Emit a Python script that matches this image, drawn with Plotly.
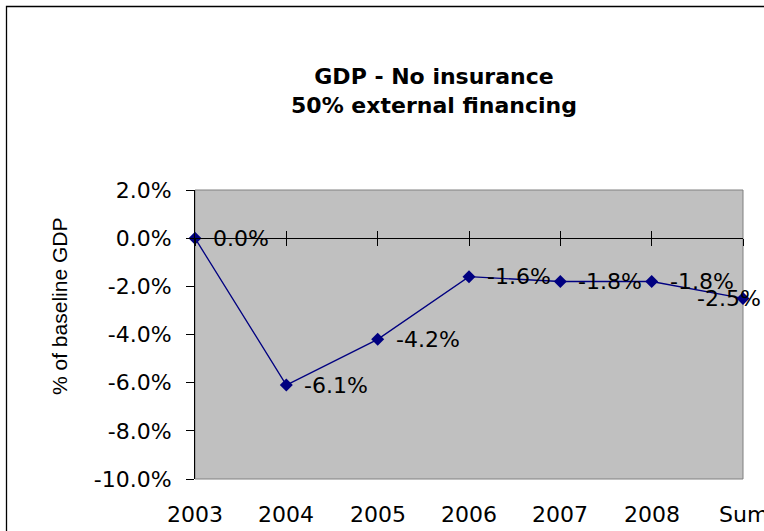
import plotly.graph_objects as go

# Chart data
years = ["2003", "2004", "2005", "2006", "2007", "2008", "Sum"]
gdp_pct = [0.0, -6.1, -4.2, -1.6, -1.8, -1.8, -2.5]
y_ticks = [2.0, 0.0, -2.0, -4.0, -6.0, -8.0, -10.0]

title_text = "<b>GDP - No insurance<br>50% external financing</b>"
y_title = "% of baseline GDP"

# Canvas and plot-area geometry (pixels)
W, H = 764, 531
L, R, T, B = 195, 21, 190, 52
plot_w = W - L - R
plot_h = H - T - B

x_idx = list(range(len(years)))
x_range = [0, len(years) - 1]
y_min, y_max = min(y_ticks), max(y_ticks)
zero_pos = (0 - y_min) / (y_max - y_min)

NAVY = "#000080"
TEXT_FONT = "DejaVu Sans"
TITLE_FONT = "Liberation Sans"

fig = go.Figure()
fig.add_trace(go.Scatter(
    x=x_idx, y=gdp_pct, mode="lines+markers",
    line=dict(color=NAVY, width=1.3),
    marker=dict(symbol="diamond", size=10, color=NAVY),
    cliponaxis=False, showlegend=False, hoverinfo="skip",
))

# Invisible companions so the zero-line axes (x2, x3) get drawn
for ax in ("x2", "x3"):
    fig.add_trace(go.Scatter(
        x=x_idx, y=gdp_pct, xaxis=ax, yaxis="y", mode="markers",
        marker=dict(opacity=0), showlegend=False, hoverinfo="skip",
    ))

# Value labels next to each point; the last one is pulled back inside the chart
for i, v in zip(x_idx, gdp_pct):
    last = i == len(years) - 1
    fig.add_annotation(
        x=i, y=v, xref="x", yref="y", text=f"{v:.1f}%", showarrow=False,
        xanchor="center" if last else "left", xshift=-14 if last else 16,
        yanchor="middle",
        font=dict(family=TEXT_FONT, size=22, color="black"),
    )

# Category labels below the plot area (the last one runs off the right edge)
for i, yr in zip(x_idx, years):
    fig.add_annotation(
        x=i, y=0, xref="x", yref="paper", text=yr, showarrow=False,
        xanchor="center", yanchor="middle", yshift=-35,
        font=dict(family=TEXT_FONT, size=22, color="black"),
    )

# Axis title
fig.add_annotation(
    x=(59 - L) / plot_w, y=(H - B - 307) / plot_h, xref="paper", yref="paper",
    text=y_title, textangle=-90, showarrow=False,
    xanchor="center", yanchor="middle",
    font=dict(family=TITLE_FONT, size=21, color="black"),
)

# Plot-area frame and outer chart border
fig.add_shape(type="rect", xref="paper", yref="paper", x0=0, y0=0, x1=1, y1=1,
              line=dict(color="#808080", width=1), fillcolor="rgba(0,0,0,0)", layer="below")
fig.add_shape(type="rect", xref="paper", yref="paper",
              x0=(6.5 - L) / plot_w, y0=-0.3, x1=1.2, y1=(H - B - 6.5) / plot_h,
              line=dict(color="black", width=1.3), fillcolor="rgba(0,0,0,0)")

zero_axis = dict(
    overlaying="x", anchor="free", position=zero_pos, range=x_range,
    tickmode="array", tickvals=x_idx, showticklabels=False,
    showgrid=False, zeroline=False, showline=True, linecolor="black", linewidth=1,
    ticklen=7, tickcolor="black", tickwidth=1,
)

fig.update_layout(
    width=W, height=H,
    margin=dict(l=L, r=R, t=T, b=B, autoexpand=False),
    paper_bgcolor="white", plot_bgcolor="#C0C0C0",
    showlegend=False,
    title=dict(
        text=title_text, x=434 / W, xanchor="center", xref="container",
        y=1 - 84 / H, yanchor="top", yref="container",
        font=dict(family=TEXT_FONT, size=22, color="black"),
    ),
    xaxis=dict(
        range=x_range, tickmode="array", tickvals=x_idx, showticklabels=False,
        showgrid=False, zeroline=False, showline=False, ticks="",
    ),
    xaxis2=dict(zero_axis, ticks="outside"),
    xaxis3=dict(zero_axis, ticks="inside"),
    yaxis=dict(
        range=[y_min, y_max], tickmode="array", tickvals=y_ticks,
        ticktext=[f"{t:.1f}%" for t in y_ticks],
        showgrid=False, zeroline=False, showline=True, linecolor="black", linewidth=1,
        ticks="outside", ticklen=8, tickcolor="black",
        ticklabelstandoff=10,
        tickfont=dict(family=TEXT_FONT, size=22, color="black"),
    ),
)

fig.write_html("out.html")
